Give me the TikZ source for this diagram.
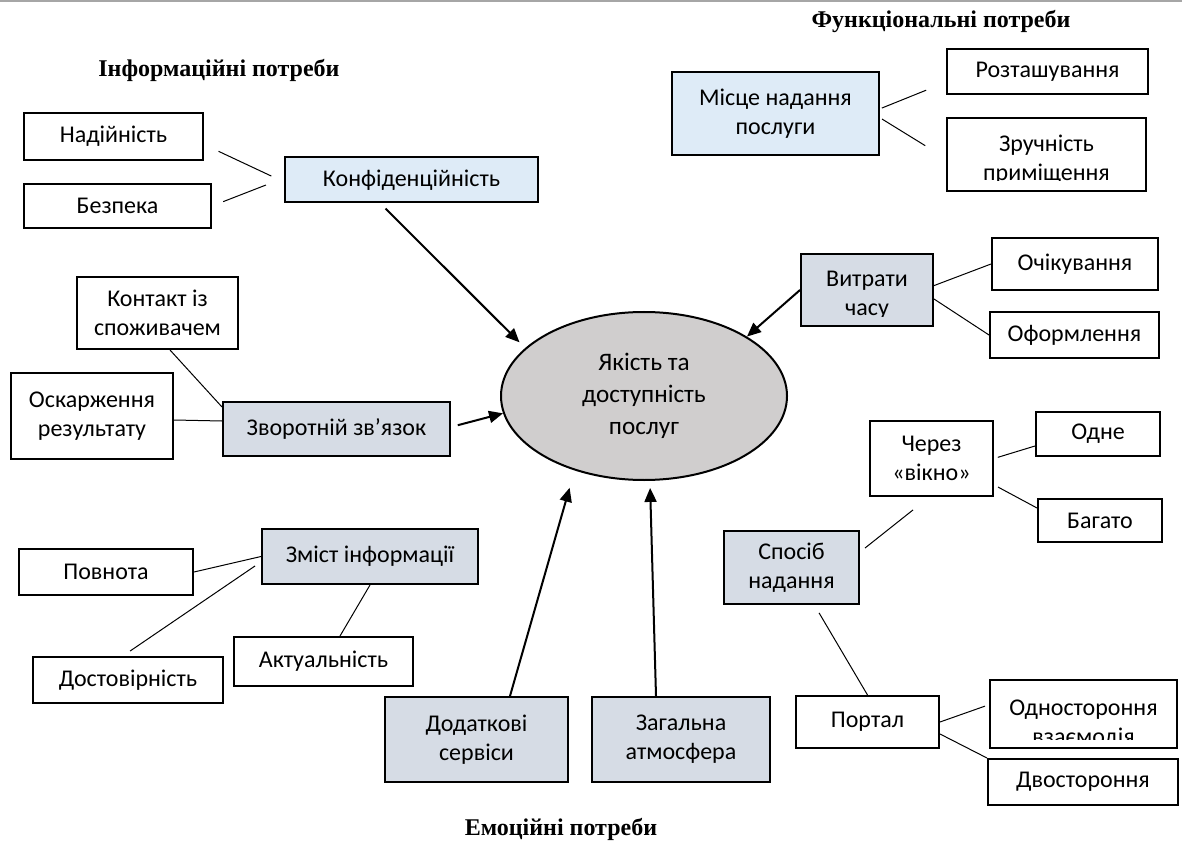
\documentclass[tikz,border=0pt]{standalone}
\usepackage{fontspec}
\setmainfont{Carlito}
\newfontfamily\hdfont{Liberation Serif}
\usepackage{tikz}
\usetikzlibrary{shapes.geometric,arrows.meta}
\definecolor{lightblue}{HTML}{DEEBF7}
\definecolor{grayblue}{HTML}{D6DCE5}
\definecolor{ellgray}{HTML}{D0CECE}

\begin{document}
\begin{tikzpicture}[x=0.5pt, y=-0.5pt,
font=\fontsize{12}{14.5}\selectfont,
box/.style={draw, line width=1pt, align=center, inner sep=0pt},
plain/.style={box, fill=white},
light/.style={box, fill=lightblue},
dark/.style={box, fill=grayblue},
cut/.style n args={4}{path picture={
  \clip ([yshift=#1]path picture bounding box.south west) rectangle (path picture bounding box.north east);
  \node[anchor=base] at ([yshift=#2]path picture bounding box.north) {#3};
  \node[anchor=base] at ([yshift=#2-14.5pt]path picture bounding box.north) {#4};}},
thinline/.style={draw, line width=0.5pt},
arr/.style={draw, line width=1pt, -{Triangle[length=7pt,width=6pt]}},
head/.style={font=\hdfont\bfseries\fontsize{12}{14}\selectfont}]
\useasboundingbox (0,0) rectangle (1182,844);
\draw[black!35, line width=1pt] (0,1) -- (1182,1);

\node[head] (infotitle) at (219,70) {Інформаційні потреби};
\node[head] (functitle) at (941,22) {Функціональні потреби};
\node[head] (emotitle) at (561,829) {Емоційні потреби};

\node[ellipse, draw, line width=1pt, fill=ellgray, minimum width=143pt, minimum height=84pt,
  align=center, font=\fontsize{12.6}{16}\selectfont] (yakist) at (644,396) {Якість та\\доступність\\послуг};

\node[plain, minimum width=89.5pt, minimum height=23.5pt] (nad) at (113.5,136.5) {Надійність};
\node[plain, minimum width=93.5pt, minimum height=22pt] (bez) at (117.5,206) {Безпека};
\node[light, minimum width=126.5pt, minimum height=22.5pt] (konf) at (411.5,180) {Конфіденційність};

\node[light, minimum width=103.5pt, minimum height=41.5pt] (misce) at (775.5,113.5) {Місце надання\\послуги};
\node[plain, minimum width=100.5pt, minimum height=22.5pt] (rozt) at (1047.5,71.5) {Розташування};
\node[plain, minimum width=99.5pt, minimum height=36.5pt, cut={5pt}{-17pt}{Зручність}{приміщення}] (zruch) at (1046.5,154.5) {};

\node[dark, minimum width=66pt, minimum height=36pt, cut={4.5pt}{-16.5pt}{Витрати}{часу}] (vytr) at (867,290) {};
\node[plain, minimum width=83pt, minimum height=26pt] (ochik) at (1075,264) {Очікування};
\node[plain, minimum width=84.5pt, minimum height=23pt] (oform) at (1074.5,335) {Оформлення};

\node[plain, minimum width=80.5pt, minimum height=36pt] (kontakt) at (157.5,313) {Контакт із\\споживачем};
\node[plain, minimum width=81pt, minimum height=43pt] (oskar) at (92,416) {Оскарження\\результату};
\node[dark, minimum width=113.5pt, minimum height=27pt] (zvor) at (336.5,429) {Зворотній зв’язок};

\node[dark, minimum width=108pt, minimum height=27.5pt] (zmist) at (370,556.5) {Зміст інформації};
\node[plain, minimum width=87pt, minimum height=23pt] (povn) at (106,572) {Повнота};
\node[plain, minimum width=95pt, minimum height=23pt] (dostov) at (128,680) {Достовірність};
\node[plain, minimum width=89.5pt, minimum height=24.5pt] (aktual) at (323.5,661.5) {Актуальність};

\node[dark, minimum width=91.5pt, minimum height=42.5pt] (dodatk) at (476.5,739.5) {Додаткові\\сервіси};
\node[dark, minimum width=89pt, minimum height=42.5pt] (zagal) at (681,739.5) {Загальна\\атмосфера};

\node[plain, minimum width=61.5pt, minimum height=37.5pt] (cherez) at (931.5,458.5) {Через\\«вікно»};
\node[plain, minimum width=62pt, minimum height=22pt] (odne) at (1098,434) {Одне};
\node[plain, minimum width=62pt, minimum height=21.5pt] (bagato) at (1100,520.5) {Багато};
\node[dark, minimum width=67.5pt, minimum height=36.5pt] (sposib) at (791.5,567.5) {Спосіб\\надання};
\node[plain, minimum width=71.5pt, minimum height=26pt] (portal) at (867.5,722) {Портал};
\node[plain, minimum width=93.5pt, minimum height=34pt, cut={4.5pt}{-17.5pt}{Одностороння}{взаємодія}] (odnost) at (1083.5,714) {};
\node[plain, minimum width=95pt, minimum height=23pt] (dvost) at (1083,782) {Двостороння};

\draw[thinline, shorten <=8pt, shorten >=7pt] ([yshift=-4pt]nad.east) -- ([yshift=-1pt]konf.west);
\draw[thinline, shorten <=6pt, shorten >=9.7pt] (bez.east) -- ([yshift=1pt]konf.west);
\draw[thinline, shorten <=1pt, shorten >=10.7pt] ([yshift=2.35pt]misce.east) -- ([yshift=-5.35pt]rozt.west);
\draw[thinline, shorten <=1.2pt, shorten >=12.2pt] ([yshift=-2.15pt]misce.east) -- ([yshift=-2pt]zruch.west);
\draw[thinline] ([yshift=2.2pt]vytr.east) -- (ochik.west);
\draw[thinline] ([yshift=-4.5pt]vytr.east) -- (oform.west);
\draw[thinline] ([xshift=6.25pt]kontakt.south) -- ([yshift=-3pt]zvor.north west);
\draw[thinline] ([yshift=-2pt]oskar.east) -- ([yshift=4pt]zvor.west);
\draw[thinline] (povn.east) -- (zmist.west);
\draw[thinline, shorten <=4.4pt, shorten >=3.6pt] ([xshift=-2.6pt]dostov.north) -- ([yshift=-2.7pt]zmist.west);
\draw[thinline] ([xshift=8.25pt]aktual.north) -- (zmist.south);
\draw[thinline, shorten <=2pt] (cherez.east) -- ([yshift=-6pt]odne.west);
\draw[thinline, shorten <=2.3pt] ([yshift=-13.2pt]cherez.east) -- ([yshift=6.25pt]bagato.west);
\draw[thinline, shorten <=3.2pt, shorten >=10.4pt] ([yshift=7.75pt]sposib.east) -- ([xshift=-1.1pt]cherez.south);
\draw[thinline, shorten <=4.6pt] ([xshift=11.45pt]sposib.south) -- (portal.north);
\draw[thinline, shorten >=2.1pt] (portal.east) -- ([yshift=4.65pt]odnost.west);
\draw[thinline] ([yshift=-6pt]portal.east) -- (dvost.north west);

\draw[arr, shorten >=4pt] ([xshift=-13pt,yshift=-2.5pt]konf.south) -- (yakist.158);
\draw[arr] (vytr.west) -- (yakist.30.5);
\draw[arr, shorten <=3.5pt] ([yshift=1pt]zvor.east) -- (yakist.-173);
\draw[arr, shorten >=9pt] ([xshift=16.75pt]dodatk.north) -- (yakist.-133);
\draw[arr, shorten >=3.5pt] ([xshift=-12.5pt]zagal.north) -- (yakist.-86);
\end{tikzpicture}
\end{document}
